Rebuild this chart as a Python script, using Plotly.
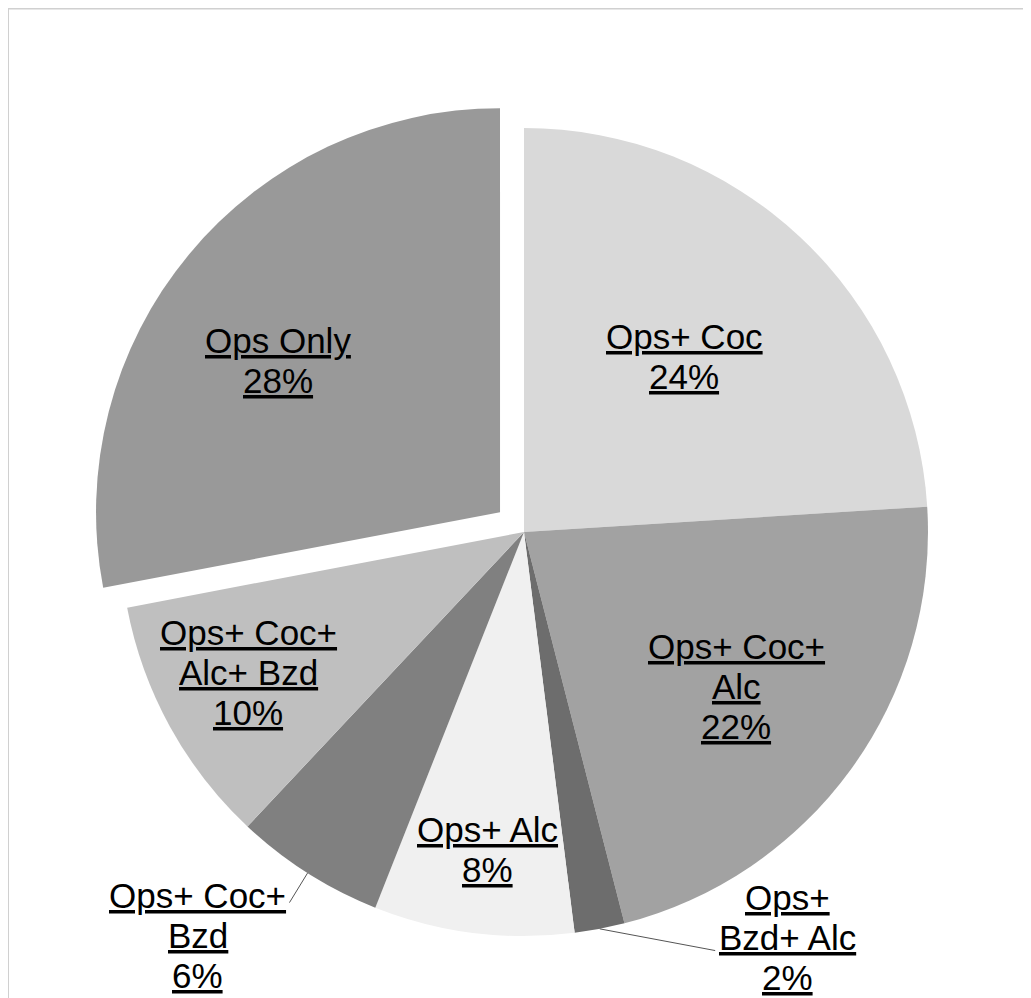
import math
import plotly.graph_objects as go

labels = ["Ops+ Coc", "Ops+ Coc+ Alc", "Ops+ Bzd+ Alc", "Ops+ Alc",
          "Ops+ Coc+ Bzd", "Ops+ Coc+ Alc+ Bzd", "Ops Only"]
label_lines = [["Ops+ Coc"], ["Ops+ Coc+", "Alc"], ["Ops+", "Bzd+ Alc"], ["Ops+ Alc"],
               ["Ops+ Coc+", "Bzd"], ["Ops+ Coc+", "Alc+ Bzd"], ["Ops Only"]]
values = [24, 22, 2, 8, 6, 10, 28]
colors = ["#d9d9d9", "#a2a2a2", "#6d6d6d", "#f0f0f0", "#808080", "#bfbfbf", "#999999"]
pulls = [0, 0, 0, 0, 0, 0, 0.077]

# label layout: radial fraction / angular nudge (deg) for inside labels,
# None -> outside label with a leader line
label_radius = [0.589, 0.65, None, 0.792, None, 0.766, 0.666]
label_angle_shift = [-0.9, 0.0, 0.0, -0.7, 0.0, 1.9, -4.7]
# outside labels: (label centre offset from pie edge, leader end offset from pie edge), pixels
outside_layout = {2: ((188, 9), (117, 22)), 4: ((-110, 62), (-19, 31))}
LINE_H = 40

W, H = 1023, 990           # page has an 8px body margin
CX, CY, R = 516, 524, 404  # pie centre / radius in figure pixels
maxpull = max(pulls)
half = R * (1 + maxpull)
dom_x = [(CX - half) / W, (CX + half) / W]
dom_y = [1 - (CY + half) / H, 1 - (CY - half) / H]

fig = go.Figure(go.Pie(
    labels=labels, values=values, sort=False, direction="clockwise", rotation=0,
    marker=dict(colors=colors, line=dict(width=0)),
    pull=pulls, textinfo="none", hoverinfo="label+percent",
    domain=dict(x=dom_x, y=dom_y), showlegend=False,
))

total = sum(values)
cum = 0
annotations = []
font = dict(family="Liberation Sans, Arial, sans-serif", size=35, color="black")


def add_lines(lines, cx, cy):
    n = len(lines)
    for k, t in enumerate(lines):
        py = cy + (k - (n - 1) / 2) * LINE_H
        annotations.append(dict(x=cx / W, y=1 - py / H, xref="paper", yref="paper",
                                text=f"<u>{t}</u>", showarrow=False, font=font,
                                xanchor="center", yanchor="middle"))


for i, v in enumerate(values):
    mid = (cum + v / 2) / total * 2 * math.pi
    cum += v
    pct = f"{round(v / total * 100)}%"
    lines = label_lines[i] + [pct]
    if label_radius[i] is not None:
        a = mid + math.radians(label_angle_shift[i])
        r = (label_radius[i] + pulls[i]) * R
        add_lines(lines, CX + r * math.sin(a), CY - r * math.cos(a))
    else:
        tx, ty = CX + R * math.sin(mid), CY - R * math.cos(mid)
        (lx, ly), (ex, ey) = outside_layout[i]
        annotations.append(dict(x=tx / W, y=1 - ty / H, xref="paper", yref="paper",
                                text="", showarrow=True, arrowhead=0, arrowwidth=1,
                                arrowcolor="#555555", ax=ex, ay=ey, standoff=0,
                                startstandoff=0))
        add_lines(lines, tx + lx, ty + ly)

shapes = [
    dict(type="line", xref="paper", yref="paper", x0=0, y0=1 - 0.5 / H, x1=1.0, y1=1 - 0.5 / H,
         line=dict(color="#d0d0d0", width=2)),
    dict(type="line", xref="paper", yref="paper", x0=0.0, y0=1, x1=0.0, y1=0,
         line=dict(color="#d0d0d0", width=2)),
]

fig.update_layout(width=W, height=H, margin=dict(l=0, r=0, t=0, b=0),
                  paper_bgcolor="white", plot_bgcolor="white",
                  annotations=annotations, shapes=shapes)
fig.write_html("out.html")
